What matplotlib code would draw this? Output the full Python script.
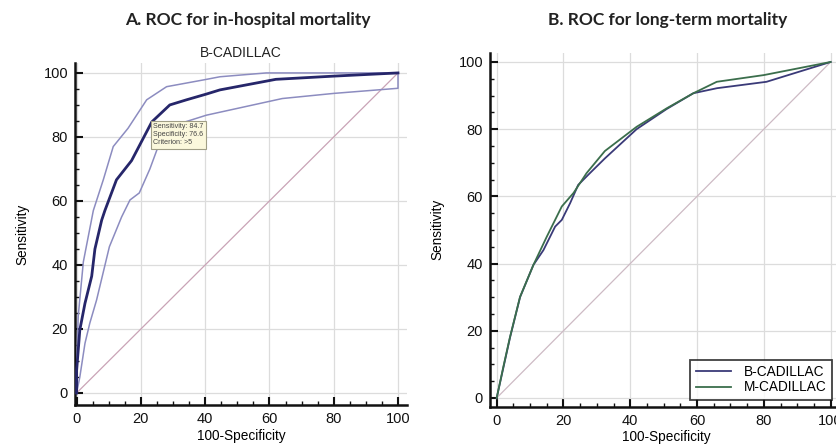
import matplotlib
matplotlib.use("Agg")
import matplotlib.pyplot as plt
from matplotlib.ticker import MultipleLocator

# ---- data (panel A) ----
a_main_x = [0, 0, 1.0, 2.6, 4.7, 5.7, 7.8, 8.8, 12.4, 17.1, 23.4, 29, 34.2, 40.4, 44.6, 62, 80, 100]
a_main_y = [0, 7, 19.7, 28, 36.5, 45, 54, 57, 66.6, 72.6, 84.7, 90, 91.6, 93.4, 94.7, 98, 99, 100]
a_upper_x = [0, 0, 0.5, 2.1, 5.2, 8.3, 11.4, 16.0, 21.8, 28, 39.4, 44.6, 59, 100]
a_upper_y = [0, 7, 24, 41, 57, 66.6, 77, 82.7, 91.6, 95.7, 97.8, 98.8, 100, 100]
a_lower_x = [0, 1, 2.6, 4.1, 6.2, 10.2, 14, 16.6, 19.5, 22.8, 25, 30, 40.4, 64, 80, 100, 100]
a_lower_y = [0, 5, 15.5, 21.8, 29, 45.7, 55, 60.3, 62.5, 70, 76, 83.5, 86.8, 92, 93.6, 95.2, 100]
ref_xy = [0, 100]

# ---- data (panel B) ----
b_b_x = [0, 2, 4, 7, 11, 14, 17.5, 19.5, 22, 24.4, 28, 32.4, 41.9, 50.9, 58.9, 66, 80.8, 100]
b_b_y = [0, 9, 18, 30, 39.6, 44, 51, 53, 58, 63.4, 67, 71.3, 80, 86, 90.7, 92.2, 94.1, 100]
b_m_x = [0, 2, 4, 7, 11, 15, 19.5, 23, 26.9, 32.4, 41.9, 50.9, 58.9, 65.9, 80, 100]
b_m_y = [0, 9.3, 18.2, 30.1, 39.6, 48, 57, 61, 66.9, 73.5, 80.7, 86.2, 90.7, 94.1, 96.1, 100]
series_names = ["B-CADILLAC", "M-CADILLAC"]
ticks = [0, 20, 40, 60, 80, 100]

plt.rcParams['font.family'] = ['Liberation Sans', 'DejaVu Sans']

fig = plt.figure(figsize=(8.37, 4.45), dpi=100)

def style_axes(ax):
    ax.set_xticks(ticks)
    ax.set_yticks(ticks)
    ax.xaxis.set_minor_locator(MultipleLocator(5))
    ax.yaxis.set_minor_locator(MultipleLocator(5))
    ax.grid(True, which='major', color='#dcdcdc', lw=0.9, zorder=0)
    ax.set_axisbelow(True)
    for s in ['top', 'right']:
        ax.spines[s].set_visible(False)
    for s in ['left', 'bottom']:
        ax.spines[s].set_linewidth(1.8)
        ax.spines[s].set_color('#111111')
    ax.tick_params(which='major', direction='in', length=6, width=1.5, labelsize=10.5, colors='#111111', pad=5)
    ax.tick_params(which='minor', direction='in', length=3, width=1.0, colors='#111111')
    ax.set_xlabel('100-Specificity', fontsize=9.8, labelpad=2)
    ax.set_ylabel('Sensitivity', fontsize=9.8, labelpad=10)

# Panel A
ax1 = fig.add_axes([75/837, 1-405/445, 332/837, 342/445])
ax1.set_xlim(-0.5, 102.8)
ax1.set_ylim(-3.75, 103.1)
style_axes(ax1)
ax1.plot(ref_xy, ref_xy, color='#c9a3b6', lw=0.9, zorder=2)
ax1.plot(a_upper_x, a_upper_y, color='#8c8cc0', lw=1.1, zorder=3)
ax1.plot(a_lower_x, a_lower_y, color='#8c8cc0', lw=1.1, zorder=3)
ax1.plot(a_main_x, a_main_y, color='#26266a', lw=2.0, zorder=4)
ax1.text(23.9, 84.2, 'Sensitivity: 84.7\nSpecificity: 76.6\nCriterion: >5', fontsize=5.1,
         va='top', ha='left', color='#444444', linespacing=1.2, zorder=6,
         bbox=dict(boxstyle='square,pad=0.35', fc='#fbf8dc', ec='#a09e86', lw=0.8))
ax1.set_title('B-CADILLAC', fontsize=10, color='#222222', pad=4)
fig.text(248/837, 1-20/445, 'A. ROC for in-hospital mortality', ha='center', va='center',
         fontsize=12.5, fontweight='bold', family=['Lato', 'DejaVu Sans'], color='#222222')

# Panel B
ax2 = fig.add_axes([490/837, 1-406.7/445, 352/837, 353.8/445])
ax2.set_xlim(-2, 103.4)
ax2.set_ylim(-2.6, 102.7)
style_axes(ax2)
ax2.plot(ref_xy, ref_xy, color='#cdbac4', lw=0.9, zorder=2)
ax2.plot(b_b_x, b_b_y, color='#3a3a78', lw=1.3, zorder=4, label=series_names[0])
ax2.plot(b_m_x, b_m_y, color='#3b6e4c', lw=1.3, zorder=4, label=series_names[1])
leg = ax2.legend(loc='lower left', bbox_to_anchor=(0.55, 0.0), fontsize=9.8, frameon=True,
                 fancybox=False, edgecolor='#111111', handlelength=2.6, borderpad=0.4,
                 labelspacing=0.1, handletextpad=0.9)
leg.get_frame().set_linewidth(1.3)
fig.text(668/837, 1-20/445, 'B. ROC for long-term mortality', ha='center', va='center',
         fontsize=12.5, fontweight='bold', family=['Lato', 'DejaVu Sans'], color='#222222')

fig.savefig('out.png', dpi=100)
